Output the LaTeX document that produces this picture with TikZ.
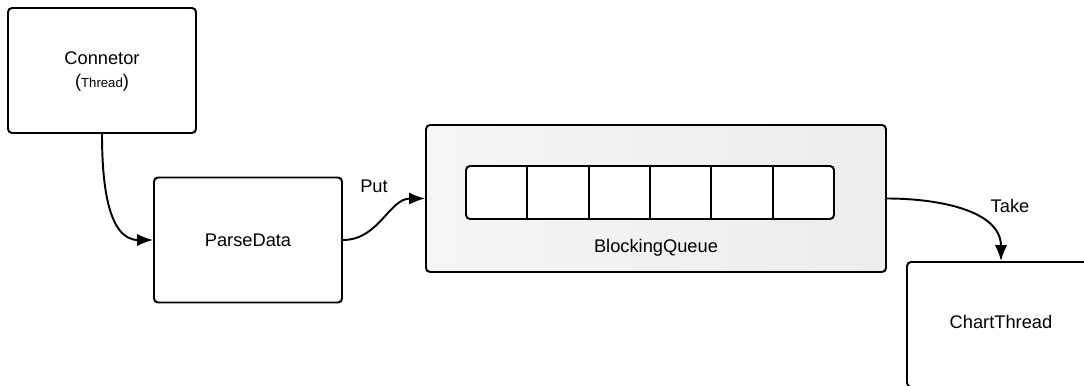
\documentclass[tikz,border=0pt]{standalone}
\usepackage{fontspec}
\setmainfont{Liberation Sans}
\usetikzlibrary{arrows.meta}
\tikzset{%
  box/.style      = {shape=rectangle, rounded corners=2.3pt,%
                     draw, line width=1.1pt, fill=white,%
                     minimum width=188*0.02cm, minimum height=125*0.02cm},%
  queuebox/.style = {box, left color=gray!7, right color=gray!15,%
                     minimum width=460*0.02cm, minimum height=147*0.02cm},%
  slots/.style    = {box, minimum width=368*0.02cm, minimum height=53*0.02cm},%
  lbl/.style      = {font=\fontsize{10.4}{12}\selectfont, inner sep=1pt},%
  flow/.style     = {line width=1.1pt, -{Latex[length=9pt,width=7pt]}}%
}
\begin{document}
\begin{tikzpicture}[x=0.02cm,y=-0.02cm]
	\useasboundingbox (0,0) rectangle (1084,385);
	\clip (0,0) rectangle (1084,385);
	% boxes
	\node [box] (conn) at (102,70.5) {};
	\node [lbl] at (102,58) {Connetor};
	\node [lbl] at (102,83) {({\fontsize{7.5}{9}\selectfont Thread})};
	\node [box,lbl] (parse) at (248,240) {ParseData};
	\node [queuebox] (bq) at (656,198.5) {};
	\node [slots] (slots) at (650,192.5) {};
	\foreach \i in {1,...,5}
		\draw [line width=1.1pt] ({466+\i*61.33},{166}) -- ({466+\i*61.33},{219});
	\node [lbl] at (656,248) {BlockingQueue};
	\node [box] (chart) at (1001,324.5) {};
	\node [lbl] at (1001,322) {ChartThread};
	% connectors
	\draw [flow] (conn.south) to[out=-90,in=180] (parse.west);
	\draw [flow] (parse.east) to[out=0,in=180] (bq.west);
	\draw [flow] (bq.east) to[out=0,in=90] (chart.north);
	\node [lbl] (put) at (374,186) {Put};
	\node [lbl] (take) at (1010,206) {Take};
\end{tikzpicture}
\end{document}
